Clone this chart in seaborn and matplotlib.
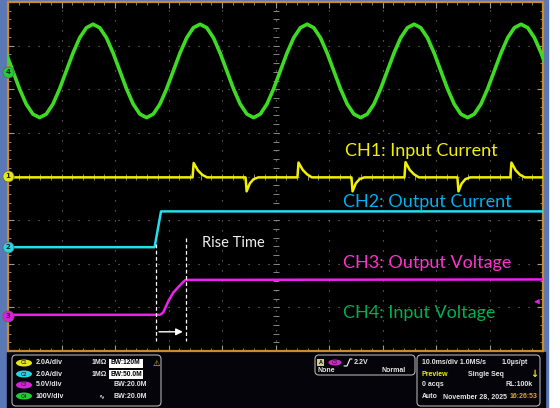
import numpy as np
import matplotlib
matplotlib.use("Agg")
import matplotlib.pyplot as plt
from matplotlib.patches import Rectangle, FancyBboxPatch, Ellipse
from matplotlib.ticker import MultipleLocator
import seaborn as sns

# screen units: x in divisions (10 ms/div), y in divisions (0 = centre line)
ch4_t = np.arange(85) * 0.125 - 0.41
ch4_v = [3.49, 3.41, 3.18, 2.83, 2.42, 2.01, 1.66, 1.43, 1.35, 1.43, 1.66, 2.01, 2.42, 2.83, 3.18, 3.41,
         3.49, 3.41, 3.18, 2.83, 2.42, 2.01, 1.66, 1.43, 1.35, 1.43, 1.66, 2.01, 2.42, 2.83, 3.18, 3.41,
         3.49, 3.41, 3.18, 2.83, 2.42, 2.01, 1.66, 1.43, 1.35, 1.43, 1.66, 2.01, 2.42, 2.83, 3.18, 3.41,
         3.49, 3.41, 3.18, 2.83, 2.42, 2.01, 1.66, 1.43, 1.35, 1.43, 1.66, 2.01, 2.42, 2.83, 3.18, 3.41,
         3.49, 3.41, 3.18, 2.83, 2.42, 2.01, 1.66, 1.43, 1.35, 1.43, 1.66, 2.01, 2.42, 2.83, 3.18, 3.41,
         3.49, 3.41, 3.18, 2.83, 2.42]

ch1_t = [0.00, 3.45, 3.47, 3.55, 3.63, 3.72,
         4.44, 4.46, 4.52, 4.59, 4.68,
         5.41, 5.43, 5.51, 5.59, 5.68,
         6.42, 6.44, 6.50, 6.57, 6.66,
         7.41, 7.43, 7.51, 7.59, 7.68,
         8.40, 8.42, 8.48, 8.55, 8.64,
         9.39, 9.41, 9.49, 9.57, 9.66, 10.00]
ch1_v = [-0.02, -0.02, 0.31, 0.14, 0.04, -0.02,
         -0.02, -0.34, -0.16, -0.06, -0.02,
         -0.02, 0.32, 0.15, 0.05, -0.02,
         -0.02, -0.34, -0.16, -0.06, -0.02,
         -0.02, 0.33, 0.15, 0.05, -0.02,
         -0.02, -0.34, -0.16, -0.06, -0.02,
         -0.02, 0.32, 0.14, 0.04, -0.02, -0.02]

ch2_t = [0.00, 2.74, 2.86, 10.00]
ch2_v = [-1.62, -1.62, -0.80, -0.80]

ch3_t = [0.00, 2.84, 2.90, 3.00, 3.09, 3.18, 3.28, 3.32, 10.00]
ch3_v = [-3.17, -3.17, -3.12, -2.85, -2.66, -2.54, -2.41, -2.37, -2.36]

ch_names = ["CH1: Input Current", "CH2: Output Current", "CH3: Output Voltage", "CH4: Input Voltage"]
ch_offsets = [0.02, -1.61, -3.20, 2.39]
rise_start, rise_end = 2.77, 3.32
trig_level = -2.87

scales = ["2.0A/div", "2.0A/div", "5.0V/div", "100V/div"]
bandwidths = ["120M", "50.0M", "20.0M", "20.0M"]

trace_col = ["#f0f000", "#22e0ee", "#f020f0", "#3ddc22"]
label_col = ["#f2f200", "#00b0f0", "#ff33cc", "#00b050"]
badge_col = ["#e6e619", "#25d5e0", "#d824d8", "#22cc33"]

sns.set_theme(style="dark")
plt.rcParams["font.family"] = ["Lato", "DejaVu Sans"]

fig = plt.figure(figsize=(5.6, 4.08), dpi=100)
fig.patch.set_facecolor("white")

# frame background (pixel coordinates)
bg = fig.add_axes([0, 0, 1, 1], zorder=0)
bg.set_xlim(0, 560); bg.set_ylim(408, 0); bg.axis("off")
bg.add_patch(Rectangle((0, 0), 548, 408, color="#5a78b6"))
bg.add_patch(Rectangle((7, 352), 538, 56, color="#04040a"))

ax = fig.add_axes([8 / 560, 57 / 408, 535 / 560, 349 / 408], zorder=1)
ax.set_facecolor("black")

for t, v, c, lw in [(ch4_t, ch4_v, trace_col[3], 2.6), (ch1_t, ch1_v, trace_col[0], 1.8),
                    (ch2_t, ch2_v, trace_col[1], 1.8), (ch3_t, ch3_v, trace_col[2], 1.8)]:
    sns.lineplot(x=t, y=v, ax=ax, color=c, lw=lw, estimator=None, sort=False, zorder=3)

ax.set_xlim(0, 10); ax.set_ylim(-4, 4)
ax.set_xlabel(""); ax.set_ylabel("")
ax.xaxis.set_major_locator(MultipleLocator(1)); ax.xaxis.set_minor_locator(MultipleLocator(0.2))
ax.yaxis.set_major_locator(MultipleLocator(1)); ax.yaxis.set_minor_locator(MultipleLocator(0.2))
ax.tick_params(which="both", direction="in", top=True, right=True, bottom=True, left=True,
               labelbottom=False, labelleft=False, colors="#9a9a9a")
ax.tick_params(which="major", length=4, width=0.8)
ax.tick_params(which="minor", length=2.5, width=0.6)
ax.grid(which="major", color="#808080", lw=0.8, ls=(0, (1, 8)))
for s in ax.spines.values():
    s.set_visible(True); s.set_color("#cc8a2e"); s.set_linewidth(1.6)

# centre crosshair ticks
cx = np.arange(0.2, 10, 0.2)
ax.plot(cx, np.zeros_like(cx), ls="none", marker="|", ms=4, mew=0.6, color="#9a9a9a", zorder=2)
cy = np.arange(-3.8, 4, 0.2)
ax.plot(np.full_like(cy, 5), cy, ls="none", marker="_", ms=4, mew=0.6, color="#9a9a9a", zorder=2)

# labels
lx = [6.30, 6.26, 6.26, 6.26]
ly = [0.48, -0.71, -2.09, -3.24]
for i in range(4):
    ax.text(lx[i], ly[i], ch_names[i], color=label_col[i], fontsize=13, va="baseline", zorder=4)

# rise time annotation
ax.plot([rise_start, rise_start], [-1.54, -3.77], color="white", lw=0.9, ls=(0, (3, 2)), zorder=4)
ax.plot([rise_end, rise_end], [-1.40, -3.77], color="white", lw=0.9, ls=(0, (3, 2)), zorder=4)
ax.annotate("", xy=(rise_end, -3.56), xytext=(rise_start, -3.56),
            arrowprops=dict(arrowstyle="-|>", color="white", lw=1, mutation_scale=10), zorder=4)
ax.text(3.63, -1.61, "Rise Time", color="#f0f0f0", fontsize=10.5, va="baseline", zorder=4)

# channel markers on the left edge
for i, lvl in enumerate(ch_offsets):
    ax.plot([0], [lvl], marker="o", ms=8, mfc=badge_col[i], mec="#606060", mew=0.5,
            clip_on=False, zorder=6)
    ax.text(0, lvl, str(i + 1), fontsize=5, ha="center", va="center", color="#202020",
            clip_on=False, zorder=7, family="DejaVu Sans", weight="bold")

# trigger level marker
ax.annotate("", xy=(9.78, trig_level), xytext=(9.98, trig_level),
            arrowprops=dict(arrowstyle="-|>", color="#e020e0", lw=0.8, mutation_scale=7))

# status panel
ov = fig.add_axes([0, 0, 1, 1], zorder=2)
ov.set_xlim(0, 560); ov.set_ylim(408, 0); ov.axis("off")
for x0, y0, x1, y1 in [(12, 355, 161, 406), (315, 355, 415, 375), (417, 355, 540, 406)]:
    ov.add_patch(FancyBboxPatch((x0, y0), x1 - x0, y1 - y0, boxstyle="round,pad=0,rounding_size=4",
                                fc="none", ec="#b0b0b0", lw=0.8))

small = dict(fontsize=5.0, weight="bold", va="center", family="Liberation Sans", color="#e6e6e6")
rows = [363, 374, 385, 396]
for i, y in enumerate(rows):
    ov.add_patch(Ellipse((24, y), 16, 7, fc=badge_col[i], ec="none"))
    ov.text(24, y, f"C{i + 1}", **{**small, "fontsize": 3.6, "color": "#303030", "ha": "center"})
    ov.text(36, y, scales[i], **small)
    if i < 2:
        ov.text(107, y, "1MΩ", **{**small, "ha": "right"})
        ov.add_patch(Rectangle((109, y - 4.5), 34, 9, fc="white", ec="none"))
        ov.text(110.5, y, "BW:" + bandwidths[i], **{**small, "color": "black", "fontsize": 4.8})
    else:
        ov.text(114, y, "BW:" + bandwidths[i], **small)
ov.text(98, rows[3], "∿", **{**small, "family": "DejaVu Sans"})
ov.text(156, rows[0], "⚠", **{**small, "family": "DejaVu Sans", "color": "#f0e020", "ha": "center", "fontsize": 6})

ov.add_patch(Rectangle((317, 358.5), 7, 7, fc="#d8c898", ec="none"))
ov.text(320.5, 362, "A", **{**small, "fontsize": 4, "color": "black", "ha": "center"})
ov.add_patch(Ellipse((335, 362.5), 13, 6, fc=badge_col[2], ec="none"))
ov.text(335, 362.5, "C3", **{**small, "fontsize": 3.3, "color": "#303030", "ha": "center"})
ov.plot([344, 347, 350, 352], [366, 366, 359, 359], color="white", lw=0.8)
ov.text(354, 362, "2.2V", **small)
ov.text(317, 370, "None", **small)
ov.text(382, 370, "Normal", **small)

ov.text(422, 363, "10.0ms/div 1.0MS/s", **small)
ov.text(502, 363, "1.0µs/pt", **small)
ov.text(422, 374, "Preview", **{**small, "color": "#f0f000"})
ov.text(468, 374, "Single Seq", **small)
ov.text(530, 374, "↓", **{**small, "color": "#f0f000", "family": "DejaVu Sans", "fontsize": 7})
ov.text(422, 385, "0 acqs", **small)
ov.text(505, 385, "RL:100k", **small)
ov.text(422, 397, "Auto", **small)
ov.text(443, 397, "November 28, 2025", **small)
ov.text(510, 397, "16:26:53", **{**small, "color": "#e8a030"})

fig.savefig("out.png", dpi=100)
